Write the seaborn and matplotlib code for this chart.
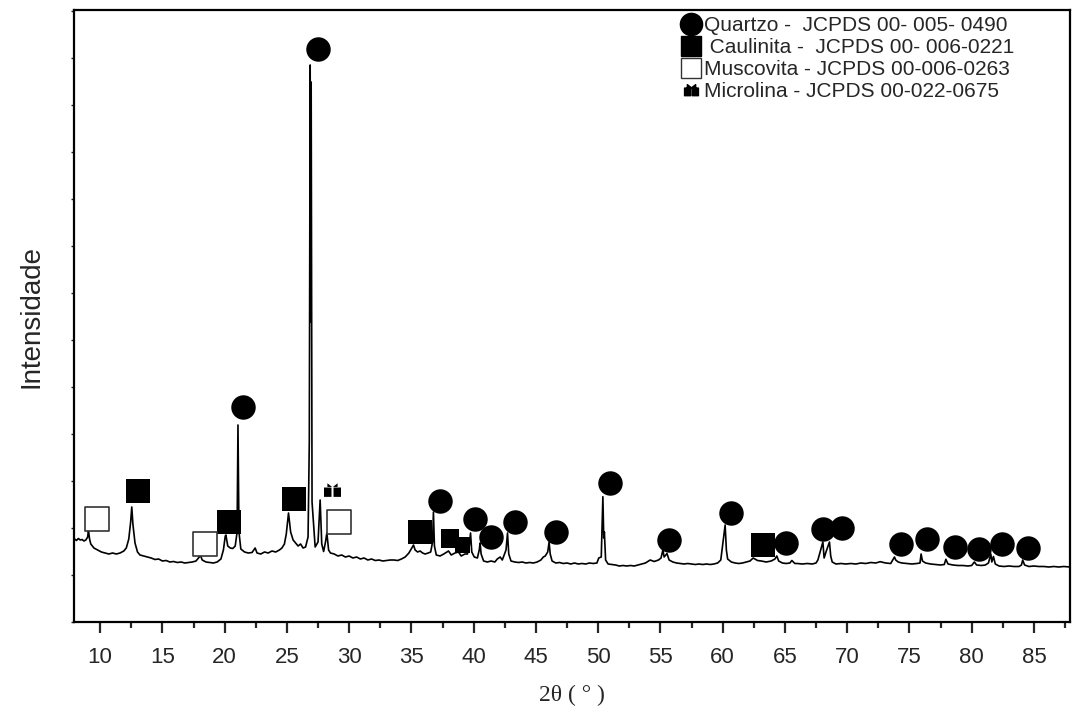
import numpy as np
import pandas as pd
import matplotlib
matplotlib.use("Agg")
import matplotlib.pyplot as plt
from matplotlib.path import Path
from matplotlib.lines import Line2D
import seaborn as sns

# ---------------- data ----------------
two_theta = [
    7.95, 8.1, 8.25, 8.4, 8.55, 8.7, 8.85, 9.0, 9.06, 9.15, 9.25, 9.5, 9.8, 10.1, 10.4, 10.7,
    11.0, 11.3, 11.6, 11.9, 12.1, 12.3, 12.45, 12.54, 12.63, 12.8, 13.0, 13.2, 13.5, 13.8,
    14.1, 14.4, 14.7, 15.0, 15.3, 15.6, 15.9, 16.2, 16.5, 16.8, 17.1, 17.4, 17.7, 17.9,
    18.06, 18.2, 18.5, 18.8, 19.1, 19.4, 19.7, 19.9, 20.05, 20.1, 20.25, 20.45, 20.65, 20.85,
    21.0, 21.07, 21.15, 21.3, 21.6, 21.9, 22.2, 22.45, 22.6, 22.9, 23.2, 23.5, 23.8, 24.1,
    24.4, 24.6, 24.8, 24.95, 25.13, 25.3, 25.5, 25.7, 25.9, 26.1, 26.3, 26.5, 26.7, 26.8,
    26.87, 26.92, 26.95, 27.02, 27.27, 27.5, 27.67, 27.8, 27.95, 28.1, 28.21, 28.35, 28.5,
    28.8, 29.1, 29.4, 29.7, 30.0, 30.3, 30.6, 30.9, 31.2, 31.5, 31.8, 32.1, 32.4, 32.7,
    33.0, 33.3, 33.6, 33.9, 34.2, 34.5, 34.8, 35.17, 35.3, 35.5, 35.7, 35.9, 36.1, 36.35,
    36.55, 36.7, 36.77, 36.85, 37.0, 37.3, 37.6, 37.98, 38.2, 38.5, 38.78, 39.0, 39.3,
    39.5, 39.65, 39.75, 39.85, 40.05, 40.3, 40.45, 40.52, 40.6, 40.8, 41.1, 41.4, 41.7,
    41.9, 42.13, 42.3, 42.6, 42.72, 42.82, 43.0, 43.3, 43.6, 43.9, 44.2, 44.5, 44.8, 45.1,
    45.4, 45.6, 45.75, 45.95, 46.06, 46.15, 46.3, 46.6, 46.9, 47.2, 47.5, 47.8, 48.1, 48.4,
    48.7, 49.0, 49.3, 49.6, 49.9, 50.05, 50.25, 50.38, 50.45, 50.5, 50.6, 50.8, 51.1, 51.4,
    51.7, 52.0, 52.3, 52.6, 52.9, 53.2, 53.5, 53.8, 54.18, 54.5, 54.85, 55.05, 55.2, 55.3,
    55.53, 55.7, 56.0, 56.3, 56.6, 56.9, 57.2, 57.5, 57.8, 58.1, 58.4, 58.7, 59.0, 59.3,
    59.6, 59.85, 60.2, 60.3, 60.4, 60.7, 61.0, 61.3, 61.6, 61.9, 62.2, 62.45, 62.8, 63.1,
    63.5, 63.9, 64.2, 64.35, 64.5, 64.8, 65.1, 65.4, 65.56, 65.8, 66.0, 66.4, 66.8, 67.2,
    67.5, 67.65, 68.05, 68.15, 68.3, 68.58, 68.68, 68.8, 69.1, 69.5, 69.9, 70.3, 70.7, 71.1,
    71.5, 71.9, 72.3, 72.65, 73.1, 73.5, 73.8, 73.9, 74.1, 74.4, 74.8, 75.2, 75.6, 75.85,
    75.94, 76.05, 76.3, 76.7, 77.1, 77.5, 77.8, 77.93, 78.1, 78.5, 78.9, 79.3, 79.7, 80.0,
    80.22, 80.4, 80.8, 81.1, 81.35, 81.54, 81.62, 81.75, 81.9, 82.2, 82.6, 83.0, 83.4,
    83.8, 84.0, 84.1, 84.25, 84.6, 85.0, 85.4, 85.8, 86.2, 86.6, 87.0, 87.4, 87.9,
]
intensity = [
    830, 815, 835, 820, 825, 810, 820, 850, 920, 830, 780, 740, 720, 700, 690, 680,
    690, 680, 690, 710, 740, 830, 1000, 1150, 980, 790, 700, 670, 660, 650,
    640, 625, 630, 610, 615, 600, 605, 595, 600, 590, 595, 600, 610, 640,
    665, 620, 600, 595, 590, 600, 630, 720, 860, 870, 760, 740, 735, 760,
    900, 1970, 900, 730, 700, 690, 695, 740, 690, 680, 700, 690, 710, 700,
    720, 740, 780, 880, 1090, 900, 820, 790, 760, 780, 740, 750, 850, 1800,
    5570, 3000, 5400, 1200, 750, 800, 1220, 780, 705, 800, 890, 720, 690,
    680, 660, 670, 650, 660, 640, 650, 630, 640, 620, 630, 615, 620, 610,
    615, 620, 620, 615, 630, 650, 690, 770, 720, 700, 710, 690, 680, 690,
    700, 800, 1100, 760, 670, 660, 680, 710, 670, 690, 700, 660, 680,
    680, 760, 890, 700, 650, 640, 720, 790, 680, 610, 600, 610, 600,
    630, 650, 620, 720, 890, 680, 610, 600, 595, 600, 590, 595, 590, 600,
    620, 650, 660, 700, 800, 680, 610, 590, 595, 585, 590, 580, 590, 580,
    585, 580, 590, 585, 590, 640, 650, 1253, 840, 900, 620, 580, 575, 570,
    560, 565, 560, 565, 560, 570, 580, 590, 620, 605, 620, 640, 720, 650,
    685, 620, 600, 590, 585, 580, 585, 580, 575, 580, 575, 580, 575, 580,
    590, 620, 970, 720, 630, 600, 590, 585, 590, 600, 610, 640, 615, 610,
    600, 610, 630, 660, 610, 590, 585, 590, 615, 585, 585, 580, 585, 580,
    590, 620, 800, 640, 700, 800, 660, 600, 580, 585, 580, 585, 580, 590,
    585, 595, 590, 603, 590, 585, 650, 620, 600, 590, 585, 580, 585, 590,
    680, 610, 590, 580, 575, 570, 575, 627, 580, 570, 565, 565, 560, 565,
    600, 570, 565, 570, 590, 680, 600, 655, 580, 560, 555, 560, 555,
    555, 570, 620, 570, 555, 560, 555, 555, 550, 555, 550, 555, 550,
]

quartzo_x = [27.49, 21.51, 37.31, 40.12, 41.41, 43.33, 46.63, 50.96, 55.73, 60.66,
             65.12, 68.05, 69.57, 74.31, 76.45, 78.67, 80.63, 82.43, 84.56]
quartzo_y = [5727, 2147, 1210, 1027, 847, 997, 903, 1387, 817, 1087,
             787, 927, 937, 777, 827, 753, 727, 777, 737]

caulinita_x = [13.08, 20.31, 25.61, 35.70, 63.28]
caulinita_y = [1313, 997, 1227, 897, 770]
caulinita_small_x = [38.11, 39.10]
caulinita_small_y = [837, 770]

muscovita_x = [9.73, 18.41, 29.22]
muscovita_y = [1027, 777, 997]

microlina_x = [28.61]
microlina_y = [1320]

legend_labels = [
    "Quartzo -  JCPDS 00- 005- 0490",
    " Caulinita -  JCPDS 00- 006-0221",
    "Muscovita - JCPDS 00-006-0263",
    "Microlina - JCPDS 00-022-0675",
]
x_ticks = [10, 15, 20, 25, 30, 35, 40, 45, 50, 55, 60, 65, 70, 75, 80, 85]

# ---------------- style ----------------
sns.set_style("ticks")
plt.rcParams["font.family"] = ["Liberation Sans", "DejaVu Sans"]

fig = plt.figure(figsize=(10.72, 7.15), dpi=100)
ax = fig.add_axes([74 / 1072, 93 / 715, 996 / 1072, 612 / 715])

trace = pd.DataFrame({"2theta": two_theta, "I": intensity})
sns.lineplot(data=trace, x="2theta", y="I", ax=ax, color="black", lw=1.2,
             sort=False, estimator=None)

# gift-shaped marker for microcline
gift_verts = [
    (-1.0, -0.75), (-0.12, -0.75), (-0.12, 0.35), (-1.0, 0.35), (-1.0, -0.75),
    (0.12, -0.75), (1.0, -0.75), (1.0, 0.35), (0.12, 0.35), (0.12, -0.75),
    (-0.05, 0.42), (-0.6, 0.85), (-0.6, 0.42), (-0.05, 0.42),
    (0.05, 0.42), (0.6, 0.85), (0.6, 0.42), (0.05, 0.42),
]
gift_codes = ([Path.MOVETO] + [Path.LINETO] * 3 + [Path.CLOSEPOLY]) * 2 + \
             ([Path.MOVETO] + [Path.LINETO] * 2 + [Path.CLOSEPOLY]) * 2
gift = Path(gift_verts, gift_codes)

sns.scatterplot(x=quartzo_x, y=quartzo_y, ax=ax, marker="o", s=310,
                color="black", edgecolor="black", linewidth=0, zorder=5)
sns.scatterplot(x=caulinita_x, y=caulinita_y, ax=ax, marker="s", s=310,
                color="black", edgecolor="black", linewidth=0, zorder=5)
sns.scatterplot(x=caulinita_small_x, y=caulinita_small_y, ax=ax, marker="s",
                s=[180, 130], color="black", edgecolor="black", linewidth=0,
                zorder=4, legend=False)
sns.scatterplot(x=muscovita_x, y=muscovita_y, ax=ax, marker="s", s=290,
                facecolor="white", edgecolor="#333333", linewidth=1.2, zorder=5)
sns.scatterplot(x=microlina_x, y=microlina_y, ax=ax, marker=gift, s=150,
                color="black", edgecolor="black", linewidth=0, zorder=5)

handles = [
    Line2D([], [], ls="none", marker="o", ms=16, color="black"),
    Line2D([], [], ls="none", marker="s", ms=14, color="black"),
    Line2D([], [], ls="none", marker="s", ms=14, markerfacecolor="white",
           markeredgecolor="#333333", markeredgewidth=1.0),
    Line2D([], [], ls="none", marker=gift, ms=10, color="black"),
]
ax.legend(handles, legend_labels, loc="upper left", bbox_to_anchor=(0.605, 0.998),
          frameon=False, fontsize=15, handlelength=0.9, handletextpad=0.15,
          labelspacing=0.14, borderpad=0.25, borderaxespad=0)

ax.set_xlim(7.9, 87.9)
ax.set_ylim(0, 6120)
ax.set_xticks(x_ticks)
ax.set_xticks(np.arange(12.5, 88, 5), minor=True)
ax.set_yticks(np.arange(0, 6120, 470))
ax.set_yticklabels([])
ax.tick_params(axis="x", which="major", direction="out", length=8, width=1.6,
               labelsize=16, pad=10)
ax.tick_params(axis="x", which="minor", direction="out", length=4.5, width=1.6)
ax.tick_params(axis="y", which="major", direction="out", length=2, width=1)
for sp in ax.spines.values():
    sp.set_linewidth(1.6)
    sp.set_color("black")
    sp.set_visible(True)

ax.set_xlabel("2θ ( ° )", fontsize=17, family=["Liberation Serif", "DejaVu Serif"],
              labelpad=12)
ax.set_ylabel("Intensidade", fontsize=20, labelpad=16)

fig.savefig("out.png", dpi=100)
